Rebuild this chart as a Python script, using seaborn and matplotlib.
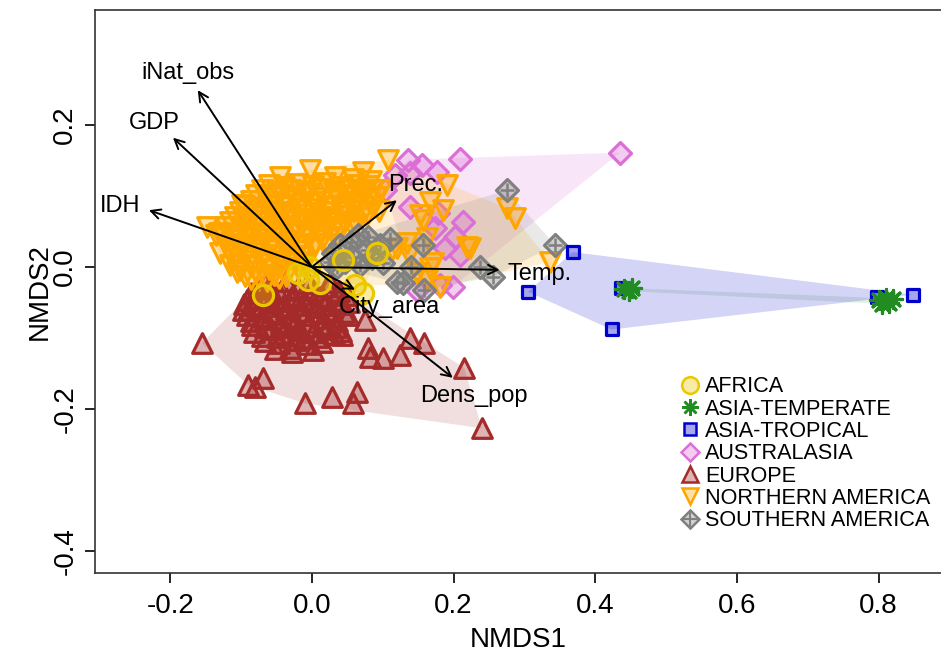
import numpy as np
import pandas as pd
import seaborn as sns
import matplotlib.pyplot as plt
from matplotlib.lines import Line2D
from matplotlib.patches import Polygon
from matplotlib.colors import to_rgba
from matplotlib.legend_handler import HandlerTuple

# Site scores (NMDS1, NMDS2), per region
africa_x = [-0.069, -0.020, -0.006, 0.044, 0.092, 0.061, 0.072, -0.004, 0.012]
africa_y = [-0.039, -0.008, -0.018, 0.010, 0.020, -0.026, -0.036, 0.000, -0.022]

asia_temp_x = [0.440, 0.447, 0.452, 0.800, 0.810, 0.815, 0.820, 0.805]
asia_temp_y = [-0.031, -0.034, -0.030, -0.047, -0.044, -0.050, -0.045, -0.052]

asia_trop_x = [0.368, 0.305, 0.423, 0.437, 0.797, 0.848]
asia_trop_y = [0.021, -0.035, -0.088, -0.030, -0.042, -0.039]

austral_x = [0.136, 0.155, 0.176, 0.209, 0.103, 0.138, 0.138, 0.174, 0.213, 0.202,
             0.188, 0.209, 0.199, 0.148, 0.181, 0.178, 0.435, 0.117]
austral_y = [0.151, 0.144, 0.134, 0.152, 0.108, 0.132, 0.085, 0.055, 0.063, 0.042,
             0.027, 0.017, -0.028, -0.032, -0.025, 0.076, 0.161, 0.130]

europe_x = [-0.155, -0.090, -0.069, -0.080, -0.010, 0.028, 0.058, 0.064, 0.079, 0.082,
            0.100, 0.124, 0.138, 0.159, 0.215, 0.240, 0.075, 0.042, -0.028, -0.090,
            -0.078, -0.061, -0.042, -0.019, 0.002, 0.021, 0.039,
            -0.092, -0.068, -0.051, -0.029, -0.011, 0.012, 0.031, 0.052,
            -0.097, -0.074, -0.056, -0.036, -0.013, 0.006, 0.027, 0.046,
            -0.086, -0.066, -0.043, -0.024, -0.004, 0.016, 0.036,
            -0.081, -0.058, -0.041, -0.019, 0.001, 0.022, 0.041,
            -0.066, -0.046, -0.023, -0.006, 0.014,
            -0.052, -0.031, 0.001,
            -0.086, -0.064, -0.046, -0.026, -0.004, 0.014, 0.036, 0.049,
            -0.096, -0.081, -0.059, -0.041, -0.021, 0.001, 0.019, 0.041,
            -0.091, -0.071, -0.049, -0.031, -0.009, 0.011, 0.029, 0.051,
            -0.084, -0.066, -0.044, -0.026, -0.006, 0.016, 0.034,
            -0.071, -0.049, -0.031, -0.011, 0.009, 0.031,
            -0.066, -0.036, -0.006, 0.026]
europe_y = [-0.107, -0.166, -0.156, -0.169, -0.192, -0.183, -0.192, -0.176, -0.114, -0.127,
            -0.128, -0.124, -0.100, -0.107, -0.142, -0.227, -0.075, -0.096, -0.120, -0.061,
            -0.031, -0.028, -0.033, -0.029, -0.032, -0.027, -0.034,
            -0.046, -0.043, -0.048, -0.044, -0.047, -0.042, -0.046, -0.049,
            -0.061, -0.058, -0.063, -0.059, -0.062, -0.057, -0.061, -0.064,
            -0.076, -0.073, -0.078, -0.074, -0.077, -0.072, -0.076,
            -0.091, -0.088, -0.093, -0.089, -0.092, -0.087, -0.090,
            -0.104, -0.107, -0.103, -0.108, -0.105,
            -0.116, -0.114, -0.117,
            -0.037, -0.039, -0.036, -0.040, -0.038, -0.041, -0.037, -0.039,
            -0.052, -0.054, -0.051, -0.055, -0.053, -0.050, -0.054, -0.052,
            -0.067, -0.069, -0.066, -0.070, -0.068, -0.065, -0.069, -0.067,
            -0.082, -0.084, -0.081, -0.085, -0.083, -0.080, -0.084,
            -0.097, -0.099, -0.096, -0.100, -0.098, -0.095,
            -0.022, -0.020, -0.023, -0.021]

namer_x = [-0.148, -0.116, -0.106, -0.099, -0.045, -0.003, 0.072, 0.107, 0.071, 0.056,
           0.191, 0.275, 0.287, 0.219, 0.336, 0.120, 0.152, 0.167, 0.185, 0.171,
           0.162, 0.181, 0.148, 0.113, 0.135, 0.162, 0.223, 0.157, 0.167, 0.137,
           -0.135, -0.130,
           -0.061, -0.039, -0.021, 0.001, 0.019, 0.042, 0.061, 0.079,
           -0.079, -0.064, -0.046, -0.024, -0.006, 0.016, 0.034, 0.056, 0.074, 0.091,
           -0.096, -0.074, -0.054, -0.036, -0.014, 0.006, 0.024, 0.046, 0.064, 0.086,
           -0.109, -0.091, -0.069, -0.051, -0.029, -0.011, 0.011, 0.029, 0.051, 0.069,
           -0.121, -0.099, -0.081, -0.059, -0.041, -0.019, 0.001, 0.021, 0.039,
           -0.124, -0.106, -0.084, -0.066, -0.044, -0.026, -0.004, 0.014, 0.036,
           -0.119, -0.101, -0.079, -0.061, -0.039, -0.021, 0.001,
           -0.111, -0.089, -0.071, -0.049, -0.031, -0.011,
           -0.101, -0.079, -0.061, -0.041, -0.019,
           -0.086, -0.064, -0.046,
           -0.071, -0.049, -0.031, -0.009, 0.011, 0.031, 0.049, 0.071, 0.086,
           -0.086, -0.056, -0.024, 0.004, 0.036, 0.064, 0.081,
           -0.101, -0.081, -0.059, -0.041, -0.019, 0.001, 0.019, 0.041, 0.059, 0.079,
           -0.116, -0.094, -0.076, -0.054, -0.036, -0.014, 0.006, 0.024, 0.046, 0.061,
           -0.131, -0.109, -0.091, -0.069, -0.051, -0.029, -0.009, 0.011, 0.029,
           -0.114, -0.096, -0.074, -0.056, -0.034, -0.016, 0.004, 0.021,
           -0.116, -0.094, -0.076, -0.054, -0.036, -0.014,
           -0.104, -0.086, -0.064, -0.046, -0.024, -0.011,
           -0.094, -0.076, -0.054, -0.036,
           0.032, 0.058, 0.084, 0.097, 0.095]
namer_y = [0.056, 0.003, -0.007, 0.087, 0.127, 0.137, 0.134, 0.151, 0.104, 0.056,
           0.115, 0.083, 0.069, 0.028, 0.007, 0.027, 0.073, 0.092, 0.080, 0.006,
           -0.018, -0.028, -0.008, 0.024, 0.034, 0.041, 0.027, 0.066, -0.001, 0.017,
           0.045, 0.020,
           0.116, 0.113, 0.117, 0.114, 0.118, 0.112, 0.116, 0.114,
           0.101, 0.098, 0.102, 0.099, 0.103, 0.097, 0.101, 0.099, 0.102, 0.098,
           0.086, 0.083, 0.087, 0.084, 0.088, 0.082, 0.086, 0.083, 0.087, 0.084,
           0.071, 0.068, 0.072, 0.069, 0.073, 0.067, 0.071, 0.068, 0.072, 0.069,
           0.056, 0.053, 0.057, 0.054, 0.058, 0.052, 0.056, 0.053, 0.057,
           0.041, 0.038, 0.042, 0.039, 0.043, 0.037, 0.041, 0.038, 0.042,
           0.026, 0.023, 0.027, 0.024, 0.028, 0.022, 0.026,
           0.011, 0.008, 0.012, 0.009, 0.013, 0.007,
           -0.004, -0.007, -0.003, -0.006, -0.002,
           -0.017, -0.020, -0.016,
           0.108, 0.106, 0.109, 0.107, 0.110, 0.106, 0.108, 0.107, 0.109,
           0.093, 0.091, 0.094, 0.092, 0.095, 0.091, 0.093,
           0.078, 0.076, 0.079, 0.077, 0.080, 0.076, 0.078, 0.077, 0.079, 0.076,
           0.063, 0.061, 0.064, 0.062, 0.065, 0.061, 0.063, 0.062, 0.064, 0.061,
           0.048, 0.046, 0.049, 0.047, 0.050, 0.046, 0.048, 0.047, 0.049,
           0.033, 0.031, 0.034, 0.032, 0.035, 0.031, 0.033, 0.032,
           0.018, 0.016, 0.019, 0.017, 0.020, 0.016,
           0.003, 0.001, 0.004, 0.002, 0.005, 0.001,
           -0.012, -0.014, -0.011, -0.013,
           0.127, 0.124, 0.121, 0.108, 0.079]

samer_x = [0.275, 0.343, 0.255, 0.237, 0.157, 0.128, 0.159, 0.120, 0.079, 0.058,
           0.078, 0.040, 0.047, 0.068, 0.025, 0.096, 0.140,
           0.030, 0.055, 0.085, 0.065, 0.035, 0.100, 0.110]
samer_y = [0.108, 0.031, -0.014, 0.000, 0.031, -0.023, -0.032, -0.021, 0.042, 0.014,
           0.024, 0.031, 0.007, 0.003, 0.007, 0.031, 0.000,
           0.020, 0.035, 0.012, 0.045, 0.000, 0.005, 0.040]

# envfit vectors
vec_names = ['iNat_obs', 'GDP', 'IDH', 'Prec.', 'Temp.', 'City_area', 'Dens_pop']
vec_x = [-0.161, -0.196, -0.230, 0.120, 0.265, 0.061, 0.199]
vec_y = [0.249, 0.182, 0.080, 0.094, -0.004, -0.032, -0.156]
lab_x = [-0.175, -0.222, -0.271, 0.147, 0.322, 0.110, 0.228]
lab_y = [0.273, 0.203, 0.086, 0.116, -0.010, -0.057, -0.182]

regions = ['AFRICA', 'ASIA-TEMPERATE', 'ASIA-TROPICAL', 'AUSTRALASIA',
           'EUROPE', 'NORTHERN AMERICA', 'SOUTHERN AMERICA']
colors = ['#EBC800', '#228B22', '#0000CD', '#DA70D6', '#A52A2A', '#FFA500', '#808080']
markers = ['o', (8, 2, 0), 's', 'D', '^', 'v', 'D']
sizes = [210, 170, 85, 125, 200, 200, 125]

coords = {
    'AFRICA': (africa_x, africa_y),
    'ASIA-TEMPERATE': (asia_temp_x, asia_temp_y),
    'ASIA-TROPICAL': (asia_trop_x, asia_trop_y),
    'AUSTRALASIA': (austral_x, austral_y),
    'EUROPE': (europe_x, europe_y),
    'NORTHERN AMERICA': (namer_x, namer_y),
    'SOUTHERN AMERICA': (samer_x, samer_y),
}
df = pd.concat([pd.DataFrame({'NMDS1': xs, 'NMDS2': ys, 'region': r})
                for r, (xs, ys) in coords.items()], ignore_index=True)


def convex_hull(pts):
    pts = sorted(set(map(tuple, pts)))
    if len(pts) < 3:
        return pts

    def cross(o, a, b):
        return (a[0] - o[0]) * (b[1] - o[1]) - (a[1] - o[1]) * (b[0] - o[0])
    lower, upper = [], []
    for p in pts:
        while len(lower) >= 2 and cross(lower[-2], lower[-1], p) <= 0:
            lower.pop()
        lower.append(p)
    for p in reversed(pts):
        while len(upper) >= 2 and cross(upper[-2], upper[-1], p) <= 0:
            upper.pop()
        upper.append(p)
    return lower[:-1] + upper[:-1]


sns.set_style("ticks")
plt.rcParams['font.family'] = ['Liberation Sans', 'DejaVu Sans']
plt.rcParams['text.color'] = 'black'
plt.rcParams['axes.labelcolor'] = 'black'

fig = plt.figure(figsize=(9.41, 6.58), dpi=100)
ax = fig.add_axes([0.101, 0.129, 0.899, 0.856])

# hulls
hull_alpha = {'AFRICA': 0.15, 'ASIA-TEMPERATE': 0.12, 'ASIA-TROPICAL': 0.17,
              'AUSTRALASIA': 0.17, 'EUROPE': 0.15, 'NORTHERN AMERICA': 0.17,
              'SOUTHERN AMERICA': 0.17}
for r, c in zip(regions, colors):
    sub = df[df.region == r]
    h = convex_hull(sub[['NMDS1', 'NMDS2']].values)
    ax.add_patch(Polygon(h, closed=True, facecolor=to_rgba(c, hull_alpha[r]),
                         edgecolor='none', zorder=1))

# points
order = ['EUROPE', 'AUSTRALASIA', 'NORTHERN AMERICA', 'SOUTHERN AMERICA',
         'ASIA-TROPICAL', 'ASIA-TEMPERATE', 'AFRICA']
for r in order:
    i = regions.index(r)
    sub = df[df.region == r]
    c = colors[i]
    face = to_rgba(c, 0.35) if r != 'ASIA-TEMPERATE' else c
    sns.scatterplot(data=sub, x='NMDS1', y='NMDS2', ax=ax, marker=markers[i],
                    s=sizes[i], color=face, edgecolor=c, linewidth=2.3,
                    zorder=2, legend=False)
    if r == 'SOUTHERN AMERICA':
        sns.scatterplot(data=sub, x='NMDS1', y='NMDS2', ax=ax, marker='+',
                        s=100, color=c, linewidth=1.8, zorder=2, legend=False)

# vectors
for name, vx, vy, tx, ty in zip(vec_names, vec_x, vec_y, lab_x, lab_y):
    ax.annotate('', xy=(vx, vy), xytext=(0, 0),
                arrowprops=dict(arrowstyle='->', lw=1.4, color='black',
                                mutation_scale=17, shrinkA=0, shrinkB=0),
                zorder=3)
    ax.text(tx, ty, name, fontsize=17, ha='center', va='center', zorder=4)

ax.set_xlim(-0.306, 0.888)
ax.set_ylim(-0.431, 0.362)
ax.set_xticks([-0.2, 0.0, 0.2, 0.4, 0.6, 0.8])
ax.set_xticklabels(['-0.2', '0.0', '0.2', '0.4', '0.6', '0.8'])
ax.set_yticks([-0.4, -0.2, 0.0, 0.2])
ax.set_yticklabels(['-0.4', '-0.2', '0.0', '0.2'], rotation=90, va='center')
ax.tick_params(direction='out', length=7, width=1.2, labelsize=20, pad=5,
               colors='black')
ax.tick_params(axis='x', pad=7)
ax.set_xlabel('NMDS1', fontsize=20, labelpad=6)
ax.set_ylabel('NMDS2', fontsize=20, labelpad=0)
for side in ['left', 'bottom', 'top']:
    ax.spines[side].set_linewidth(1.2)
    ax.spines[side].set_color('#333333')
ax.spines['right'].set_visible(False)

# legend
handles = []
for r, c, m in zip(regions, colors, markers):
    face = to_rgba(c, 0.35) if r != 'ASIA-TEMPERATE' else c
    ms = 12 if m in ('o', '^', 'v', (8, 2, 0)) else 9
    h = Line2D([], [], linestyle='none', marker=m, markersize=ms,
               markerfacecolor=face, markeredgecolor=c, markeredgewidth=1.8)
    if r == 'SOUTHERN AMERICA':
        p = Line2D([], [], linestyle='none', marker='+', markersize=11,
                   markeredgecolor=c, markeredgewidth=1.5)
        h = (h, p)
    handles.append(h)
fig.legend(handles, regions, loc='upper left', bbox_to_anchor=(0.722, 0.428),
           frameon=False, fontsize=15.6, handlelength=1.0, handletextpad=0.2,
           labelspacing=0.06, borderpad=0, borderaxespad=0,
           handler_map={tuple: HandlerTuple(ndivide=1, pad=0)})

fig.savefig('out.png', dpi=100)
